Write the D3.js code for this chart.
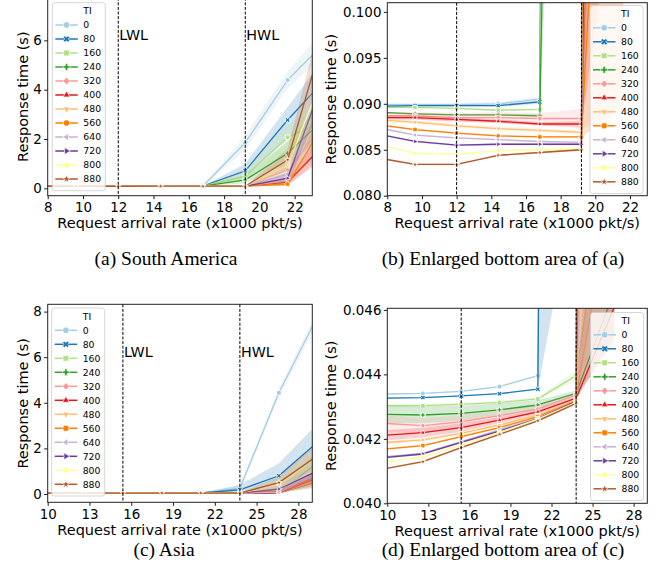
<!DOCTYPE html>
<html><head><meta charset="utf-8">
<script src="https://cdn.jsdelivr.net/npm/d3@7"></script>
<style>body{margin:0;background:#fff}svg{display:block}</style>
</head><body>
<svg id="chart" width="670" height="582"></svg>
<script>
// ---------------- DATA ----------------
const tiLevels  = [0, 80, 160, 240, 320, 400, 480, 560, 640, 720, 800, 880];
const tiColors  = ["#a6cee3","#1f78b4","#b2df8a","#33a02c","#fb9a99","#e31a1c","#fdbf6f","#ff7f00","#cab2d6","#6a3d9a","#ffff99","#b15928"];
const tiMarkers = ["o","X","s","P","D","^","v","8","<",">","h","*"];

// South America: arrival rates (x1000 pkt/s) and watermark levels
const rateSA = [7.2, 9.6, 12, 14.4, 16.8, 19.2, 21.6, 24];
const wlSA   = [12, 19.2];
const respSA = [
  [0.0899, 0.0899, 0.0899, 0.0900, 0.0905, 1.85, 4.39, 6.12],
  [0.0897, 0.0898, 0.0898, 0.0898, 0.0902, 0.71, 2.77, 4.62],
  [0.0896, 0.0896, 0.0895, 0.0893, 0.0894, 0.50, 2.07, 2.81],
  [0.0891, 0.0889, 0.0888, 0.0888, 0.0887, 0.34, 1.42, 3.03],
  [0.0887, 0.0887, 0.0885, 0.0885, 0.0884, 0.0884, 0.74, 2.90],
  [0.0885, 0.0885, 0.0883, 0.0881, 0.0878, 0.0878, 0.25, 2.02],
  [0.0883, 0.0880, 0.0876, 0.0873, 0.0871, 0.0869, 0.30, 3.73],
  [0.0878, 0.0872, 0.0868, 0.0865, 0.0864, 0.0864, 0.17, 3.02],
  [0.0875, 0.0866, 0.0863, 0.0861, 0.0859, 0.0858, 0.58, 3.17],
  [0.0868, 0.0859, 0.0855, 0.0856, 0.0856, 0.0856, 0.41, 5.14],
  [0.0857, 0.0846, 0.0845, 0.0849, 0.0850, 0.0851, 0.92, 5.26],
  [0.0842, 0.0834, 0.0834, 0.0844, 0.0847, 0.0850, 1.15, 7.05]
];
const ciLoSA = [
  [0.0897, 0.0897, 0.0897, 0.0898, 0.0902, 1.55, 4.05, 5.6],
  [0.0896, 0.0897, 0.0897, 0.0897, 0.0900, 0.45, 2.00, 3.4],
  [0.0895, 0.0895, 0.0894, 0.0892, 0.0893, 0.30, 1.50, 2.1],
  [0.0890, 0.0888, 0.0887, 0.0887, 0.0886, 0.20, 1.00, 2.3],
  [0.0884, 0.0883, 0.0880, 0.0879, 0.0877, 0.0873, 0.0889, 1.6],
  [0.0883, 0.0883, 0.0881, 0.0879, 0.0876, 0.0875, 0.12, 1.4],
  [0.0881, 0.0878, 0.0874, 0.0871, 0.0869, 0.0867, 0.15, 2.9],
  [0.0877, 0.0871, 0.0867, 0.0864, 0.0863, 0.0863, 0.09, 2.2],
  [0.0874, 0.0865, 0.0862, 0.0860, 0.0858, 0.0857, 0.30, 2.4],
  [0.0867, 0.0858, 0.0854, 0.0855, 0.0855, 0.0855, 0.20, 4.2],
  [0.0856, 0.0845, 0.0844, 0.0848, 0.0849, 0.0850, 0.55, 4.3],
  [0.0841, 0.0833, 0.0833, 0.0843, 0.0846, 0.0849, 0.75, 5.9]
];
const ciHiSA = [
  [0.0901, 0.0901, 0.0901, 0.0902, 0.0908, 2.15, 4.75, 6.7],
  [0.0898, 0.0899, 0.0899, 0.0899, 0.0904, 1.00, 3.30, 5.6],
  [0.0897, 0.0897, 0.0896, 0.0894, 0.0895, 0.70, 2.60, 3.5],
  [0.0892, 0.0890, 0.0889, 0.0889, 0.0888, 0.50, 1.90, 3.8],
  [0.0890, 0.0891, 0.0890, 0.0891, 0.0890, 0.0894, 1.40, 4.3],
  [0.0887, 0.0887, 0.0885, 0.0883, 0.0880, 0.0881, 0.40, 2.7],
  [0.0885, 0.0882, 0.0878, 0.0875, 0.0873, 0.0871, 0.48, 4.6],
  [0.0879, 0.0873, 0.0869, 0.0866, 0.0865, 0.0865, 0.30, 3.8],
  [0.0876, 0.0867, 0.0864, 0.0862, 0.0860, 0.0859, 0.90, 4.0],
  [0.0869, 0.0860, 0.0856, 0.0857, 0.0857, 0.0857, 0.65, 6.0],
  [0.0858, 0.0847, 0.0846, 0.0850, 0.0851, 0.0852, 1.30, 6.2],
  [0.0843, 0.0835, 0.0835, 0.0845, 0.0848, 0.0851, 1.60, 8.3]
];

// Asia
const rateAS = [9.8, 12.6, 15.4, 18.2, 21.0, 23.8, 26.6, 29.4];
const wlAS   = [15.4, 23.8];
const respAS = [
  [0.04339, 0.04341, 0.04347, 0.04362, 0.04396, 0.25, 4.44, 7.82],
  [0.04326, 0.04328, 0.04333, 0.04340, 0.04354, 0.18, 0.80, 2.29],
  [0.04303, 0.04303, 0.04307, 0.04313, 0.04324, 0.04396, 0.052, 1.39],
  [0.04276, 0.04274, 0.04279, 0.04290, 0.04305, 0.04341, 0.0466, 0.55],
  [0.04248, 0.04241, 0.04253, 0.04272, 0.04293, 0.04336, 0.050, 0.60],
  [0.04211, 0.04219, 0.04235, 0.04258, 0.04284, 0.04326, 0.0461, 0.71],
  [0.04188, 0.04197, 0.04217, 0.04243, 0.04274, 0.04321, 0.12, 0.80],
  [0.04168, 0.04179, 0.04207, 0.04235, 0.04269, 0.04318, 0.10, 0.78],
  [0.04144, 0.04155, 0.04191, 0.04228, 0.04264, 0.04316, 0.08, 0.90],
  [0.04142, 0.04153, 0.04189, 0.04224, 0.04262, 0.04316, 0.22, 1.02],
  [0.04128, 0.04143, 0.04181, 0.04220, 0.04261, 0.04313, 0.42, 1.65],
  [0.04107, 0.04129, 0.04173, 0.04214, 0.04256, 0.04310, 0.50, 1.69]
];
const ciLoAS = [
  [0.04337, 0.04339, 0.04345, 0.04360, 0.04393, 0.12, 4.25, 7.55],
  [0.04325, 0.04327, 0.04332, 0.04339, 0.04352, 0.05, 0.35, 1.3],
  [0.04298, 0.04298, 0.04302, 0.04308, 0.04319, 0.04380, 0.046, 0.9],
  [0.04248, 0.04248, 0.04256, 0.04270, 0.04290, 0.04332, 0.0450, 0.3],
  [0.04222, 0.04218, 0.04233, 0.04257, 0.04282, 0.04330, 0.045, 0.3],
  [0.04195, 0.04204, 0.04222, 0.04248, 0.04277, 0.04321, 0.0452, 0.4],
  [0.04183, 0.04192, 0.04212, 0.04238, 0.04269, 0.04317, 0.06, 0.5],
  [0.04165, 0.04176, 0.04204, 0.04232, 0.04266, 0.04315, 0.05, 0.5],
  [0.04141, 0.04152, 0.04188, 0.04225, 0.04261, 0.04313, 0.05, 0.6],
  [0.04139, 0.04150, 0.04186, 0.04221, 0.04259, 0.04313, 0.10, 0.7],
  [0.04125, 0.04140, 0.04178, 0.04217, 0.04258, 0.04310, 0.20, 1.1],
  [0.04104, 0.04126, 0.04170, 0.04211, 0.04253, 0.04307, 0.25, 1.15]
];
const ciHiAS = [
  [0.04341, 0.04343, 0.04349, 0.04364, 0.04399, 0.38, 4.62, 8.1],
  [0.04327, 0.04329, 0.04334, 0.04341, 0.04356, 0.40, 1.35, 3.1],
  [0.04308, 0.04308, 0.04312, 0.04318, 0.04329, 0.04412, 0.20, 1.9],
  [0.04304, 0.04300, 0.04302, 0.04310, 0.04320, 0.04350, 0.055, 0.85],
  [0.04274, 0.04264, 0.04273, 0.04287, 0.04304, 0.04342, 0.25, 0.95],
  [0.04227, 0.04234, 0.04248, 0.04268, 0.04291, 0.04331, 0.06, 1.0],
  [0.04193, 0.04202, 0.04222, 0.04248, 0.04279, 0.04325, 0.20, 1.1],
  [0.04171, 0.04182, 0.04210, 0.04238, 0.04272, 0.04321, 0.16, 1.05],
  [0.04147, 0.04158, 0.04194, 0.04231, 0.04267, 0.04319, 0.13, 1.2],
  [0.04145, 0.04156, 0.04192, 0.04227, 0.04265, 0.04319, 0.35, 1.35],
  [0.04131, 0.04146, 0.04184, 0.04223, 0.04264, 0.04316, 0.65, 2.2],
  [0.04110, 0.04132, 0.04176, 0.04217, 0.04259, 0.04313, 0.78, 2.25]
];

const ticksXSA = [8, 10, 12, 14, 16, 18, 20, 22];
const ticksXAS = [10, 13, 16, 19, 22, 25, 28];
const ticksYa = [0, 2, 4, 6];
const ticksYb = [0.080, 0.085, 0.090, 0.095, 0.100];
const ticksYc = [0, 2, 4, 6, 8];
const ticksYd = [0.040, 0.042, 0.044, 0.046];
const wlNames = ["LWL", "HWL"];
const captions = ["(a) South America", "(b) Enlarged bottom area of (a)", "(c) Asia", "(d) Enlarged bottom area of (c)"];

// ---------------- DRAWING ----------------
const svg = d3.select("#chart");
const FONT = "DejaVu Sans, sans-serif";

function polyD(pts){ return "M" + pts.map(p => p[0].toFixed(2) + "," + p[1].toFixed(2)).join("L") + "Z"; }
function reg(n, rad, rot){ return d3.range(n).map(k => { const a = rot + 2*Math.PI*k/n; return [rad*Math.sin(a), -rad*Math.cos(a)]; }); }
function rotPts(pts, a){ const c=Math.cos(a), s=Math.sin(a); return pts.map(p => [p[0]*c - p[1]*s, p[0]*s + p[1]*c]); }
function markerPath(t, r){
  if (t === "o") return d3.symbol(d3.symbolCircle, Math.PI*r*r)();
  if (t === "s") { const h=r*0.88; return polyD([[-h,-h],[h,-h],[h,h],[-h,h]]); }
  if (t === "D") return polyD(reg(4, r*1.1, 0));
  if (t === "^") return polyD(reg(3, r*1.2, 0));
  if (t === "v") return polyD(reg(3, r*1.2, Math.PI));
  if (t === "<") return polyD(reg(3, r*1.2, -Math.PI/2));
  if (t === ">") return polyD(reg(3, r*1.2, Math.PI/2));
  if (t === "8") return polyD(reg(8, r, Math.PI/8));
  if (t === "h") return polyD(reg(6, r, 0));
  if (t === "*") return polyD(d3.range(10).map(k => { const a=Math.PI*k/5, rr = k%2 ? r*0.5 : r*1.25; return [rr*Math.sin(a), -rr*Math.cos(a)]; }));
  const w=r*0.38, R=r*1.05;
  const plus = [[-w,-R],[w,-R],[w,-w],[R,-w],[R,w],[w,w],[w,R],[-w,R],[-w,w],[-R,w],[-R,-w],[-w,-w]];
  if (t === "P") return polyD(plus);
  return polyD(rotPts(plus, Math.PI/4)); // X
}

const panels = [
  {xs: rateSA, resp: respSA, lo: ciLoSA, hi: ciHiSA, xd: [8, 23], yd: [-0.3, 7.73], xt: ticksXSA, yt: ticksYa, fmt: d3.format("d"),
   l: 47.7, r: 312.3, t: -2.3, b: 195.7, wl: wlSA, wlText: true, legX: 52.3, legY: 2.7, ylabX: 22.5, cap: captions[0], capX: 166, capY: 265},
  {xs: rateSA, resp: respSA, lo: ciLoSA, hi: ciHiSA, xd: [8, 23], yd: [0.080, 0.101], xt: ticksXSA, yt: ticksYb, fmt: d3.format(".3f"),
   l: 387.3, r: 647.3, t: 2.7, b: 195.7, wl: wlSA, wlText: false, legX: 590, legY: 5.5, ylabX: 331, cap: captions[1], capX: 503, capY: 265},
  {xs: rateAS, resp: respAS, lo: ciLoAS, hi: ciHiAS, xd: [10, 29], yd: [-0.364, 8.32], xt: ticksXAS, yt: ticksYc, fmt: d3.format("d"),
   l: 47.7, r: 312.3, t: 304.3, b: 502.3, wl: wlAS, wlText: true, legX: 51.7, legY: 308, ylabX: 22.5, cap: captions[2], capX: 164, capY: 556},
  {xs: rateAS, resp: respAS, lo: ciLoAS, hi: ciHiAS, xd: [10, 29], yd: [0.040, 0.04605], xt: ticksXAS, yt: ticksYd, fmt: d3.format(".3f"),
   l: 387.3, r: 647.3, t: 308.3, b: 503.3, wl: wlAS, wlText: false, legX: 590.5, legY: 312.5, ylabX: 331, cap: captions[3], capX: 503, capY: 556}
];

panels.forEach((p, pi) => {
  const x = d3.scaleLinear().domain(p.xd).range([p.l, p.r]);
  const y = d3.scaleLinear().domain(p.yd).range([p.b, p.t]);
  const g = svg.append("g");
  const cid = "clip" + pi;
  svg.append("clipPath").attr("id", cid).append("rect")
    .attr("x", p.l).attr("y", p.t).attr("width", p.r - p.l).attr("height", p.b - p.t);
  const plot = g.append("g").attr("clip-path", `url(#${cid})`);

  tiLevels.forEach((ti, i) => {
    const pts = p.xs.map((xv, j) => ({x: xv, v: p.resp[i][j], lo: p.lo[i][j], hi: p.hi[i][j]}));
    const col = tiColors[i];
    plot.append("path")
      .attr("d", d3.area().x(d => x(d.x)).y0(d => y(d.lo)).y1(d => y(d.hi))(pts))
      .attr("fill", col).attr("fill-opacity", 0.2).attr("stroke", "none");
    plot.append("path")
      .attr("d", d3.line().x(d => x(d.x)).y(d => y(d.v))(pts))
      .attr("fill", "none").attr("stroke", col).attr("stroke-width", 1.3).attr("stroke-linejoin", "round");
    const mp = markerPath(tiMarkers[i], 2.5);
    plot.selectAll(null).data(pts.filter(d => y(d.v) > -50 && y(d.v) < 700)).join("path")
      .attr("d", mp).attr("transform", d => `translate(${x(d.x)},${y(d.v)})`)
      .attr("fill", col).attr("stroke", "#fff").attr("stroke-width", 0.9);
  });

  // watermark lines
  p.wl.forEach((w, k) => {
    g.append("line").attr("x1", x(w)).attr("x2", x(w)).attr("y1", p.t).attr("y2", p.b)
      .attr("stroke", "#000").attr("stroke-width", 1).attr("stroke-dasharray", "3,1.6");
    if (p.wlText) {
      g.append("text").attr("x", x(w) + 1).attr("y", y(6)).text(wlNames[k])
        .attr("font-family", FONT).attr("font-size", 14.3).attr("fill", "#000");
    }
  });

  // axes
  const ax = g.append("g").attr("transform", `translate(0,${p.b})`)
    .call(d3.axisBottom(x).tickValues(p.xt).tickSize(3.5).tickPadding(3.2).tickFormat(d3.format("d")));
  const ay = g.append("g").attr("transform", `translate(${p.l},0)`)
    .call(d3.axisLeft(y).tickValues(p.yt).tickSize(3.5).tickPadding(2.4).tickFormat(p.fmt));
  [ax, ay].forEach(a => {
    a.select(".domain").remove();
    a.selectAll("line").attr("stroke", "#000").attr("stroke-width", 0.9);
    a.selectAll("text").attr("font-family", FONT).attr("font-size", 13.4).attr("fill", "#000");
  });
  g.append("rect").attr("x", p.l).attr("y", p.t).attr("width", p.r - p.l).attr("height", p.b - p.t)
    .attr("fill", "none").attr("stroke", "#222").attr("stroke-width", 1);

  // labels
  g.append("text").attr("x", (p.l + p.r) / 2).attr("y", p.b + 32.6).attr("text-anchor", "middle")
    .attr("font-family", FONT).attr("font-size", 14.5).text("Request arrival rate (x1000 pkt/s)");
  g.append("text").attr("transform", `translate(${p.ylabX + 5},${(p.t + p.b) / 2}) rotate(-90)`)
    .attr("text-anchor", "middle").attr("font-family", FONT).attr("font-size", 14.5).text("Response time (s)");
  g.append("text").attr("x", p.capX).attr("y", p.capY).attr("text-anchor", "middle")
    .attr("font-family", "Liberation Serif, Times New Roman, serif").attr("font-size", 19.5).text(p.cap);

  // legend
  const lg = g.append("g").attr("transform", `translate(${p.legX},${p.legY})`);
  lg.append("rect").attr("width", 53).attr("height", 188).attr("rx", 2.5)
    .attr("fill", "#fff").attr("fill-opacity", 0.8).attr("stroke", "#ccc").attr("stroke-width", 0.8);
  const step = 14.0, top0 = 8.3;
  lg.append("text").attr("x", 31).attr("y", top0).attr("dy", "0.35em")
    .attr("font-family", FONT).attr("font-size", 9.3).text("TI");
  tiLevels.forEach((ti, i) => {
    const yy = top0 + step * (i + 1);
    lg.append("line").attr("x1", 3).attr("x2", 25.5).attr("y1", yy).attr("y2", yy)
      .attr("stroke", tiColors[i]).attr("stroke-width", 1.5);
    lg.append("path").attr("d", markerPath(tiMarkers[i], 3.3)).attr("transform", `translate(14.2,${yy})`)
      .attr("fill", tiColors[i]).attr("stroke", "#fff").attr("stroke-width", 0.7);
    lg.append("text").attr("x", 31).attr("y", yy).attr("dy", "0.35em")
      .attr("font-family", FONT).attr("font-size", 9.3).text(ti);
  });
});
</script>
</body></html>
